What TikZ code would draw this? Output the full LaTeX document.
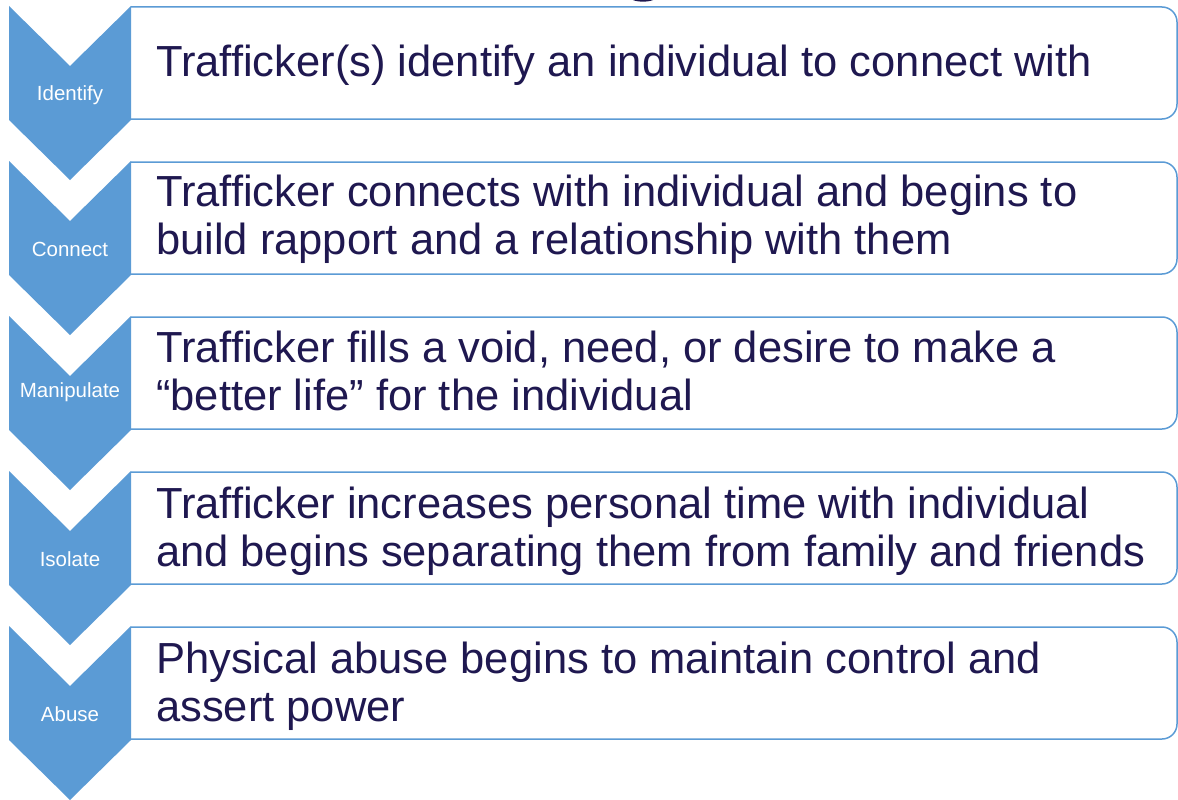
\documentclass[tikz,border=0pt]{standalone}
\usepackage{fontspec}
\setmainfont{Liberation Sans}
\definecolor{chev}{HTML}{5B9BD5}
\definecolor{txt}{HTML}{1F1850}
\begin{document}
\begin{tikzpicture}[x=1pt,y=-1pt,
  chevron/.style={fill=chev, draw=none},
  stepbox/.style={draw=chev, line width=1.5pt, fill=white, rounded corners=15pt},
  steplabel/.style={text=white, font=\fontsize{20.5}{24}\selectfont, inner sep=0pt, anchor=base},
  desc/.style={text=txt, font=\fontsize{43.5}{48}\selectfont, inner sep=0pt, anchor=base west, align=left}]
\useasboundingbox (0,0) rectangle (1178,800);
% fragment of cut-off title glyph
\fill[txt] (633,0) .. controls (638,2.2) and (648,2.2) .. (653,0) -- cycle;
\foreach \k in {0,...,4}{
  \pgfmathsetmacro\t{6+155*\k}
  \draw[stepbox] (131,\t+1) -- (1177,\t+1) -- (1177,\t+113) -- (131,\t+113);
  \fill[chevron] (9,\t) -- (70,\t+60) -- (131,\t) -- (131,\t+114) -- (70,\t+174) -- (9,\t+114) -- cycle;
}
\node[steplabel] (lab1) at (70,100) {Identify};
\node[steplabel] (lab2) at (70,256) {Connect};
\node[steplabel] (lab3) at (70,397) {Manipulate};
\node[steplabel] (lab4) at (70,566) {Isolate};
\node[steplabel] (lab5) at (70,721) {Abuse};
\node[desc] (d1) at (156,77) {Trafficker(s) identify an individual to connect with};
\node[desc] (d2) at (156,254) {Trafficker connects with individual and begins to\\build rapport and a relationship with them};
\node[desc] (d3) at (156,410) {Trafficker fills a void, need, or desire to make a\\“better life” for the individual};
\node[desc] (d4) at (156,566) {Trafficker increases personal time with individual\\and begins separating them from family and friends};
\node[desc] (d5) at (156,721) {Physical abuse begins to maintain control and\\assert power};
\end{tikzpicture}
\end{document}
